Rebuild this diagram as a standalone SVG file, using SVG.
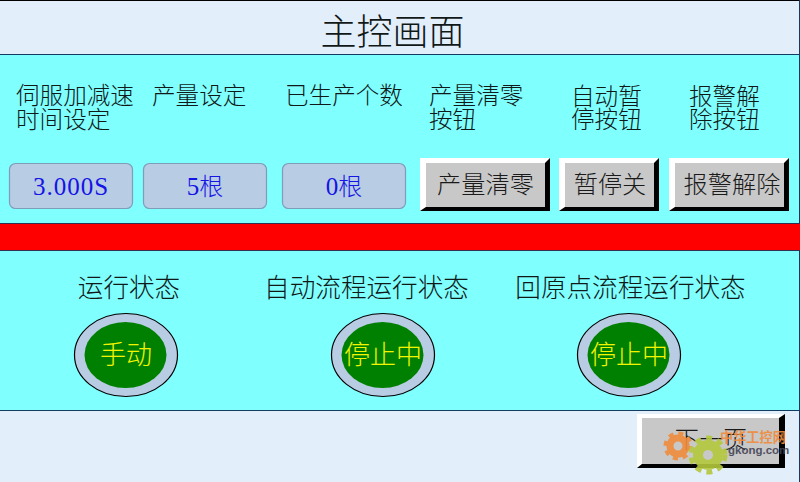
<svg xmlns="http://www.w3.org/2000/svg" width="800" height="482" viewBox="0 0 800 482">
<style>
text{font-family:"Noto Sans CJK SC","Noto Sans CJK JP",sans-serif;font-weight:300}
.l{font-size:23.600px;fill:#101818}
.m{font-size:25.600px;fill:#101818;text-anchor:middle}
.v{font-size:25px;fill:#1414e6;text-anchor:middle;font-family:"Liberation Serif","Noto Sans CJK SC",serif;font-weight:400}
.c{font-size:24px;font-family:"Noto Sans CJK SC",sans-serif;font-weight:300}
.b{font-size:24.200px;fill:#1a1a1a;text-anchor:middle}
.y{font-size:26px;fill:#f4f400;text-anchor:middle}
.box{fill:#b8cce4;stroke:#7f9db9;stroke-width:1.2}
.o{fill:#b8cce4;stroke:#000;stroke-width:1.2}
.i{fill:#008000}
.f{fill:#c8c8c8}
.w{fill:#fff}
.k{fill:#000}
</style>
<g id="background">
<rect width="800" height="482" fill="#e3eefb"/>
<rect x="0" y="54" width="800" height="357" fill="#80ffff"/>
<rect x="0" y="0" width="800" height="1" fill="#000"/>
<rect x="0" y="54" width="800" height="1" fill="#123c60"/>
<rect x="0" y="410" width="800" height="1" fill="#123c60"/>
<rect x="799" y="0" width="1" height="482" fill="#123c60"/>
</g>
<g id="title"><text x="392.500" y="45" font-size="36" fill="#101818" text-anchor="middle">主控画面</text></g>
<g id="labels">
<text class="l"><tspan x="16" y="104">伺服加减速</tspan><tspan x="16" y="128">时间设定</tspan></text>
<text class="l" x="152" y="104">产量设定</text>
<text class="l" x="285" y="104">已生产个数</text>
<text class="l"><tspan x="429" y="104">产量清零</tspan><tspan x="429" y="128">按钮</tspan></text>
<text class="l"><tspan x="571" y="105">自动暂</tspan><tspan x="571" y="128">停按钮</tspan></text>
<text class="l"><tspan x="689" y="105">报警解</tspan><tspan x="689" y="128">除按钮</tspan></text>
</g>
<g id="input-accel"><rect class="box" x="9.500" y="163.500" width="123" height="45" rx="6"/><text class="v" x="71" y="195" letter-spacing="1">3.000S</text></g>
<g id="input-output"><rect class="box" x="143.500" y="163.500" width="123" height="45" rx="6"/><text class="v" x="205" y="195">5<tspan class="c">根</tspan></text></g>
<g id="input-count"><rect class="box" x="282.500" y="163.500" width="123" height="45" rx="6"/><text class="v" x="344" y="195">0<tspan class="c">根</tspan></text></g>
<g id="btn-clear"><rect class="f" x="420" y="158" width="130" height="53"/><polygon class="w" points="420,158 550,158 545,163 426,163 426,207 420,211"/><polygon class="k" points="550,158 550,211 420,211 426,207 545,207 545,163"/><text class="b" x="485.500" y="193">产量清零</text></g>
<g id="btn-pause"><rect class="f" x="559" y="158" width="100" height="53"/><polygon class="w" points="559,158 659,158 654,163 565,163 565,207 559,211"/><polygon class="k" points="659,158 659,211 559,211 565,207 654,207 654,163"/><text class="b" x="610" y="193">暂停关</text></g>
<g id="btn-alarm"><rect class="f" x="669" y="158" width="120" height="53"/><polygon class="w" points="669,158 789,158 784,163 675,163 675,207 669,211"/><polygon class="k" points="789,158 789,211 669,211 675,207 784,207 784,163"/><text class="b" x="732" y="193">报警解除</text></g>
<g id="red-bar"><rect x="0" y="223" width="800" height="28" fill="#ff0000"/><rect x="0" y="223" width="800" height="1" fill="#303050"/><rect x="0" y="250" width="800" height="1" fill="#303050"/></g>
<g id="status-run"><text class="m" x="129" y="297">运行状态</text><ellipse class="o" cx="126" cy="355" rx="51.500" ry="41.500"/><ellipse class="i" cx="125.500" cy="355" rx="41" ry="33"/><text class="y" x="126" y="364">手动</text></g>
<g id="status-auto"><text class="m" x="366.500" y="297">自动流程运行状态</text><ellipse class="o" cx="383" cy="355" rx="51.500" ry="41.500"/><ellipse class="i" cx="382.500" cy="355" rx="41" ry="33"/><text class="y" x="383" y="364">停止中</text></g>
<g id="status-home"><text class="m" x="630.500" y="297">回原点流程运行状态</text><ellipse class="o" cx="629" cy="355" rx="51.500" ry="41.500"/><ellipse class="i" cx="628.500" cy="355" rx="41" ry="33"/><text class="y" x="629" y="364">停止中</text></g>
<g id="btn-next"><rect class="f" x="637" y="414" width="148" height="54"/><polygon class="w" points="637,414 785,414 779,418 642,418 642,464 637,468"/><polygon class="k" points="785,414 785,468 637,468 642,464 779,464 779,418"/><text class="b" x="711" y="448">下一页</text></g>
<g id="watermark" opacity="0.9">
<circle cx="678" cy="446" r="8" fill="none" stroke="#f08c3c" stroke-width="7"/>
<circle cx="678" cy="446" r="12.500" fill="none" stroke="#f08c3c" stroke-width="4" stroke-dasharray="5 4.800"/>
<circle cx="708" cy="455" r="10" fill="none" stroke="#b4c83c" stroke-width="10"/>
<circle cx="708" cy="455" r="17" fill="none" stroke="#b4c83c" stroke-width="5" stroke-dasharray="6 5.100"/>
<text x="720" y="442" font-size="13.200" fill="#f08c3c" style="font-weight:700">中华工控网</text>
<text x="728" y="454" font-size="11.500" fill="#445" style="font-family:'Liberation Sans',sans-serif;font-weight:700">gkong.com</text>
</g>
</svg>
